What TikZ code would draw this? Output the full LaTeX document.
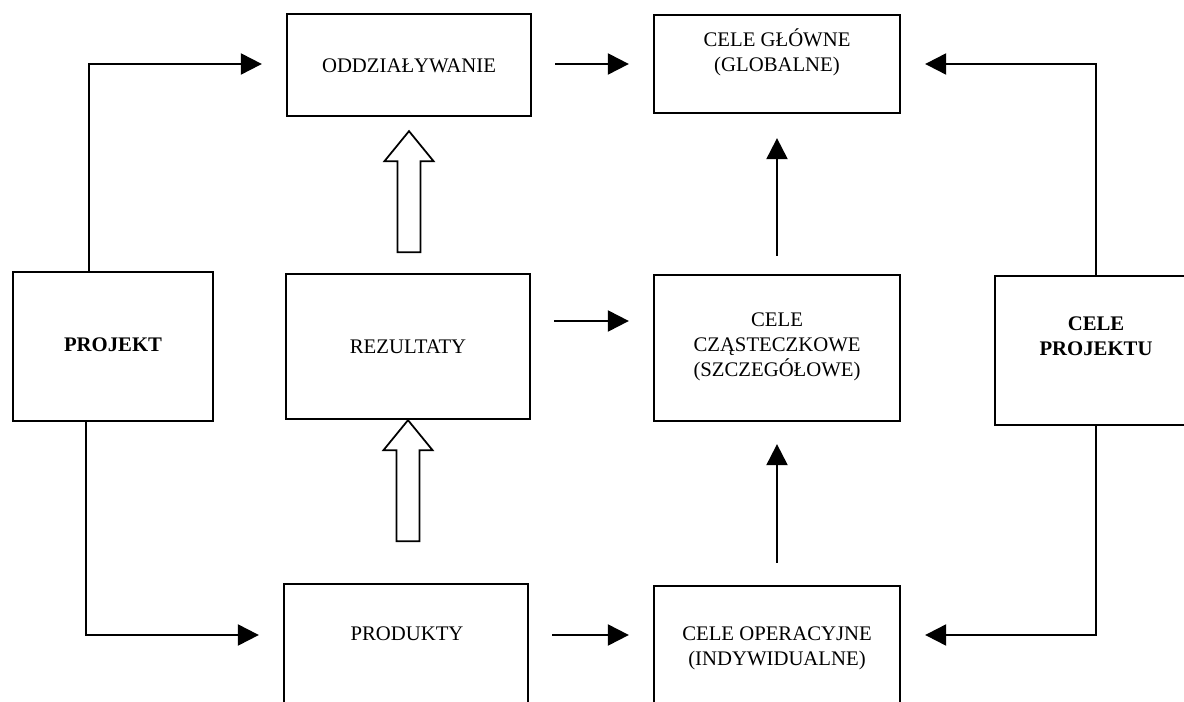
\documentclass[tikz,border=0pt]{standalone}
\usepackage{fontspec}
\setmainfont{Liberation Serif}
\usepackage{tikz}
\usetikzlibrary{arrows.meta}

\begin{document}
\begin{tikzpicture}[
  box/.style={draw, line width=1.3pt, inner sep=0pt},
  txt/.style={align=center, inner sep=0pt, font=\fontsize{11.8}{14.2}\selectfont},
  arr/.style={-{Triangle[length=0.42cm,width=0.42cm]}, line width=1.2pt},
  hollow/.style={draw, line width=1pt, line join=miter}]
\useasboundingbox (0,0) rectangle (23.68,-14.04);
\clip (0,0) rectangle (23.68,-14.04);
\coordinate (high) at (0,-1.28);
\coordinate (mid) at (0,-6.42);
\coordinate (low) at (0,-12.70);
% boxes
\node[box, minimum width=4.00cm, minimum height=2.98cm] (proj) at (2.26,-6.93) {};
\node[box, minimum width=4.88cm, minimum height=2.04cm] (oddz) at (8.18,-1.30) {};
\node[box, minimum width=4.92cm, minimum height=1.96cm] (glow) at (15.54,-1.28) {};
\node[box, minimum width=4.88cm, minimum height=2.90cm] (rez) at (8.16,-6.93) {};
\node[box, minimum width=4.92cm, minimum height=2.92cm] (czas) at (15.54,-6.96) {};
\node[box, minimum width=4.04cm, minimum height=2.98cm] (cproj) at (21.92,-7.01) {};
\node[box, minimum width=4.88cm, minimum height=2.90cm] (prod) at (8.12,-13.13) {};
\node[box, minimum width=4.92cm, minimum height=2.90cm] (oper) at (15.54,-13.17) {};
% texts
\node[txt, font=\fontsize{11.8}{14.2}\selectfont\bfseries] (t-proj) at (2.26,-6.90) {PROJEKT};
\node[txt] (t-oddz) at (8.18,-1.32) {ODDZIAŁYWANIE};
\node[txt] (t-glow) at (15.54,-1.04) {CELE GŁÓWNE\\(GLOBALNE)};
\node[txt] (t-rez) at (8.16,-6.94) {REZULTATY};
\node[txt] (t-czas) at (15.54,-6.94) {CELE\\CZĄSTECZKOWE\\(SZCZEGÓŁOWE)};
\node[txt, font=\fontsize{11.8}{14.2}\selectfont\bfseries] (t-cproj) at (21.92,-6.72) {CELE\\PROJEKTU};
\node[txt] (t-prod) at (8.14,-12.68) {PRODUKTY};
\node[txt] (t-oper) at (15.54,-12.96) {CELE OPERACYJNE\\(INDYWIDUALNE)};
% arrows
\draw[arr, shorten >=0.48cm] ([xshift=-0.48cm]proj.north) |- (oddz.west |- high);
\draw[arr, shorten >=0.48cm] ([xshift=-0.54cm]proj.south) |- (prod.west |- low);
\draw[arr, shorten <=0.46cm, shorten >=0.48cm] (oddz.east |- high) -- (glow.west |- high);
\draw[arr, shorten <=0.46cm, shorten >=0.48cm] (rez.east |- mid) -- (czas.west |- mid);
\draw[arr, shorten <=0.46cm, shorten >=0.48cm] (prod.east |- low) -- (oper.west |- low);
\draw[arr, shorten <=0.36cm, shorten >=0.48cm] (czas.north) -- (glow.south);
\draw[arr, shorten <=0.44cm, shorten >=0.44cm] (oper.north) -- (czas.south);
\draw[arr, shorten >=0.48cm] (cproj.north) |- (glow.east |- high);
\draw[arr, shorten >=0.48cm] (cproj.south) |- (oper.east |- low);
\draw[hollow] ([yshift=-0.28cm]oddz.south) -- ++(-0.49,-0.6) -- ++(0.26,0) -- ++(0,-1.82)
  -- ++(0.46,0) -- ++(0,1.82) -- ++(0.26,0) -- cycle;
\draw[hollow] (rez.south) -- ++(-0.49,-0.6) -- ++(0.26,0) -- ++(0,-1.82)
  -- ++(0.46,0) -- ++(0,1.82) -- ++(0.26,0) -- cycle;
\end{tikzpicture}
\end{document}
